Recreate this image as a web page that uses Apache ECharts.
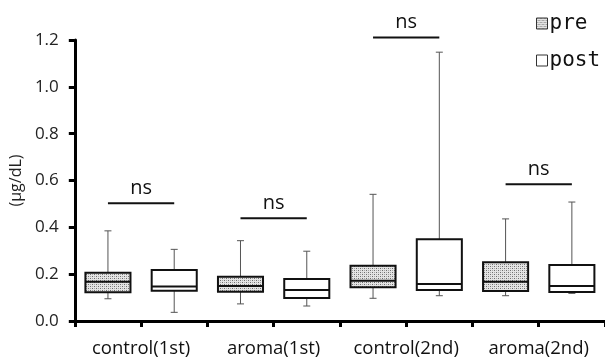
<!DOCTYPE html>
<html><head><meta charset="utf-8">
<script src="https://cdn.jsdelivr.net/npm/echarts@6/dist/echarts.min.js"></script>
<style>html,body{margin:0;padding:0;background:#fff}#c{width:605px;height:362px}</style>
</head><body><div id="c"></div>
<script>
// ---- data ----
var groups = ['control(1st)', 'aroma(1st)', 'control(2nd)', 'aroma(2nd)'];
var slots = ['c1-pre', 'c1-post', 'a1-pre', 'a1-post', 'c2-pre', 'c2-post', 'a2-pre', 'a2-post'];
var yTicks = [0, 0.2, 0.4, 0.6, 0.8, 1.0, 1.2];
// [min, q1, median, q3, max]
var preStats = [
  [0.095, 0.123, 0.168, 0.206, 0.385],
  [0.073, 0.125, 0.150, 0.189, 0.343],
  [0.097, 0.144, 0.172, 0.236, 0.541],
  [0.108, 0.128, 0.168, 0.251, 0.436]
];
var postStats = [
  [0.037, 0.129, 0.147, 0.218, 0.306],
  [0.064, 0.098, 0.132, 0.179, 0.298],
  [0.108, 0.132, 0.158, 0.349, 1.148],
  [0.118, 0.124, 0.150, 0.239, 0.508]
];
var nsLevels = [0.503, 0.439, 1.211, 0.584];
var nsLabel = 'ns';

// ---- stipple pattern ----
var pc = document.createElement('canvas');
pc.width = 4; pc.height = 4;
var g = pc.getContext('2d');
g.fillStyle = '#e4e4e4'; g.fillRect(0, 0, 4, 4);
g.fillStyle = '#6e6e6e';
g.fillRect(0, 0, 1, 1); g.fillRect(2, 2, 1, 1);
g.fillStyle = '#a8a8a8';
g.fillRect(2, 0, 1, 1); g.fillRect(0, 2, 1, 1);
var pattern = { image: pc, repeat: 'repeat' };

function boxData(stats, offset) {
  return stats.map(function (s, i) { return [2 * i + offset].concat(s); });
}

function renderBox(fill) {
  return function (params, api) {
    var x = api.value(0);
    var band = api.size([1, 0])[0];
    var w = band * 0.68;
    var cap = 7;
    var pMin = api.coord([x, api.value(1)]);
    var pQ1 = api.coord([x, api.value(2)]);
    var pMed = api.coord([x, api.value(3)]);
    var pQ3 = api.coord([x, api.value(4)]);
    var pMax = api.coord([x, api.value(5)]);
    var cx = pMin[0];
    var thin = { stroke: '#555', lineWidth: 1 };
    return {
      type: 'group',
      children: [
        { type: 'line', shape: { x1: cx, y1: pMax[1], x2: cx, y2: pQ3[1] }, style: thin },
        { type: 'line', shape: { x1: cx - cap / 2, y1: pMax[1], x2: cx + cap / 2, y2: pMax[1] }, style: thin },
        { type: 'line', shape: { x1: cx, y1: pMin[1], x2: cx, y2: pQ1[1] }, style: thin },
        { type: 'line', shape: { x1: cx - cap / 2, y1: pMin[1], x2: cx + cap / 2, y2: pMin[1] }, style: thin },
        { type: 'rect', shape: { x: cx - w / 2, y: pQ3[1], width: w, height: pQ1[1] - pQ3[1] },
          style: { fill: fill, stroke: '#111', lineWidth: 2 } },
        { type: 'line', shape: { x1: cx - w / 2, y1: pMed[1], x2: cx + w / 2, y2: pMed[1] },
          style: { stroke: '#111', lineWidth: 2 } }
      ]
    };
  };
}

var nsData = nsLevels.map(function (v, i) { return [2 * i, 2 * i + 1, v]; });

var chart = echarts.init(document.getElementById('c'));
chart.setOption({
  animation: false,
  backgroundColor: '#fff',
  grid: { left: 70, right: 0, top: 40, bottom: 41, containLabel: false },
  legend: {
    orient: 'vertical', left: 531, top: 8, itemGap: 16,
    itemWidth: 11, itemHeight: 11, icon: 'rect',
    textStyle: { fontFamily: 'DejaVu Sans Mono', fontSize: 21, color: '#111', padding: [0, 0, 0, -3] },
    data: [
      { name: 'pre', itemStyle: { color: pattern, borderColor: '#333', borderWidth: 1 } },
      { name: 'post', itemStyle: { color: '#fff', borderColor: '#333', borderWidth: 1 } }
    ]
  },
  xAxis: [{
    type: 'category', data: slots, boundaryGap: true,
    axisLine: { lineStyle: { color: '#000', width: 3 } },
    axisTick: { show: true, alignWithLabel: false, length: 6, lineStyle: { color: '#000', width: 3 } },
    axisLabel: { show: false }, splitLine: { show: false }
  }, {
    type: 'category', data: groups, position: 'bottom', boundaryGap: true,
    axisLine: { show: false }, axisTick: { show: false },
    axisLabel: { interval: 0, hideOverlap: false, margin: 18, fontFamily: 'Open Sans', fontSize: 18.5, color: '#111' }
  }],
  yAxis: {
    type: 'value', min: 0, max: 1.2, interval: 0.2,
    name: '(μg/dL)', nameLocation: 'middle', nameGap: 44, nameRotate: 90,
    nameTextStyle: { fontFamily: 'Open Sans', fontSize: 16, color: '#222' },
    axisLine: { show: true, lineStyle: { color: '#000', width: 3 } },
    axisTick: { show: true, length: 6, lineStyle: { color: '#000', width: 3 } },
    axisLabel: { margin: 16, fontFamily: 'Open Sans', fontSize: 17, color: '#222',
      formatter: function (v) { return v.toFixed(1); } },
    splitLine: { show: false }
  },
  series: [{
    name: 'pre', type: 'custom', xAxisIndex: 0, yAxisIndex: 0,
    itemStyle: { color: '#ccc' },
    renderItem: renderBox(pattern), data: boxData(preStats, 0),
    encode: { x: 0, y: [1, 2, 3, 4, 5] }
  }, {
    name: 'post', type: 'custom', xAxisIndex: 0, yAxisIndex: 0,
    itemStyle: { color: '#fff' },
    renderItem: renderBox('#fff'), data: boxData(postStats, 1),
    encode: { x: 0, y: [1, 2, 3, 4, 5] }
  }, {
    name: 'sig', type: 'custom', xAxisIndex: 0, yAxisIndex: 0,
    renderItem: function (params, api) {
      var a = api.coord([api.value(0), api.value(2)]);
      var b = api.coord([api.value(1), api.value(2)]);
      return {
        type: 'group',
        children: [
          { type: 'line', shape: { x1: a[0], y1: a[1], x2: b[0], y2: b[1] },
            style: { stroke: '#111', lineWidth: 2 } },
          { type: 'text', style: { x: (a[0] + b[0]) / 2, y: a[1] - 15, text: nsLabel,
            textAlign: 'center', textVerticalAlign: 'middle',
            font: '20px "Open Sans"', fill: '#111' } }
        ]
      };
    },
    data: nsData, encode: { x: [0, 1], y: 2 }
  }]
});
</script></body></html>
